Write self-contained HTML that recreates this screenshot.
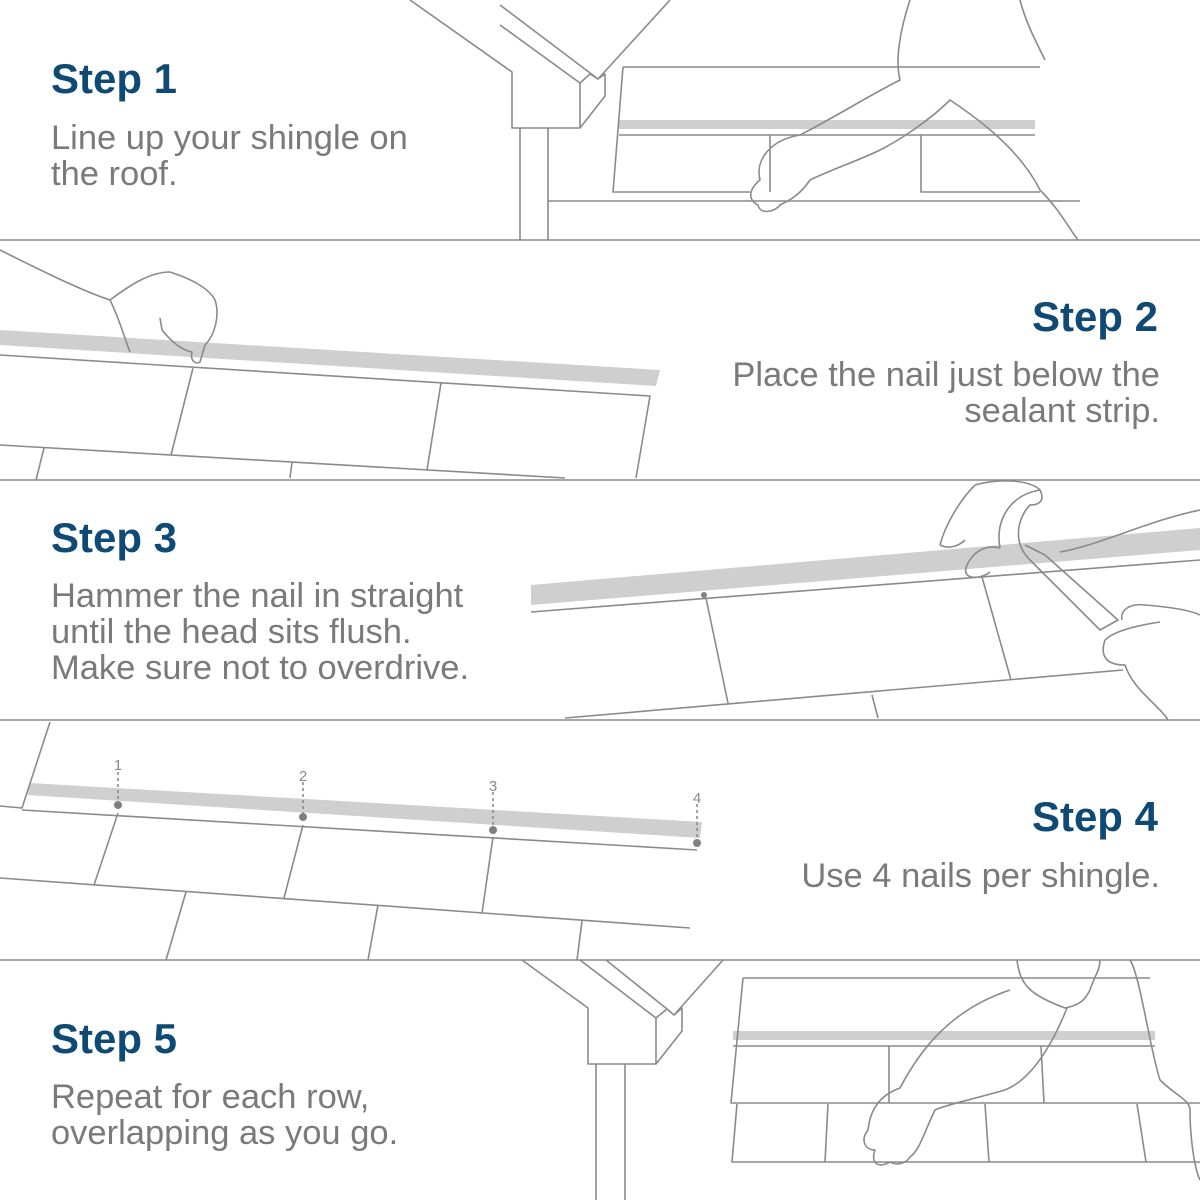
<!DOCTYPE html>
<html><head><meta charset="utf-8"><style>
html,body{margin:0;padding:0;background:#fff;}
svg{display:block}
.h{font-family:"Liberation Sans",sans-serif;font-weight:bold;font-size:42px;fill:#0f4a74}
.b{font-family:"Liberation Sans",sans-serif;font-size:34.5px;fill:#7a7a7a}
.n{font-family:"Liberation Sans",sans-serif;font-size:15px;fill:#888}
</style></head><body>
<svg width="1200" height="1200" viewBox="0 0 1200 1200" xmlns="http://www.w3.org/2000/svg">
<rect width="1200" height="1200" fill="#fff"/>
<!-- sealant strips -->
<g fill="#cfcfcf">
<rect x="619" y="120" width="416" height="9"/>
<polygon points="0,330 660,370 656,386 0,345"/>
<polygon points="531,585 1200,528 1200,550 531,605"/>
<polygon points="30,783 702,822 700,838 28,795"/>
<rect x="733" y="1031" width="422" height="9"/>
</g>
<g fill="none" stroke="#8a8a8a" stroke-width="1.6" stroke-linejoin="round">
<!-- panel 1 -->
<path d="M410,0 L512,72 L512,128 L580,128 L580,83 L590,74 L598,79 L670,0"/>
<path d="M500,25 L580,83"/><path d="M500,5 L598,79"/>
<path d="M598,79 L605,74 L605,96 L580,128"/>
<path d="M520,128 L520,240 M548,128 L548,240"/>
<path d="M548,201 L1080,201"/>
<path d="M623,67 L1040,67 M623,67 L613,192 L750,192"/>
<path d="M619,135 L1035,135 M770,135 L770,192 M921,135 L921,192 L1040,192"/>
<path d="M910,0 C900,30 895,60 900,80 C870,95 830,120 800,135 C770,140 755,160 760,180 C748,190 748,200 758,205 C760,215 775,212 780,205 C790,200 800,195 810,180 C830,170 860,160 880,150 C900,140 930,120 950,100 C980,120 1020,150 1040,190 C1060,210 1070,230 1078,240"/>
<path d="M1020,0 C1025,20 1035,40 1045,60"/>
<!-- panel 2 -->
<path d="M0,355 L650,396 L636,478"/>
<path d="M193,368 L171,455 M441,383 L427,470"/>
<path d="M0,445 L565,478 M44,448 L36,480 M292,462 L290,478"/>
<path d="M0,250 C40,270 80,290 110,300 C130,285 150,272 170,272 C195,280 210,290 215,300 C220,315 215,335 205,345 L200,362 C195,365 190,360 192,352 C180,350 170,340 162,330 L160,318"/>
<path d="M110,300 C120,320 125,340 130,352"/>
<!-- panel 3 -->
<path d="M531,612 L1200,560"/>
<path d="M706,598 L728,703 M982,577 L1011,680"/>
<path d="M565,718 L1123,670 M872,695 L878,718"/>
<path d="M940,545 C945,525 960,500 975,485 C1000,478 1030,480 1040,490 M940,545 C950,550 960,545 965,540 M1060,552 C1100,545 1150,520 1200,510"/>
<path d="M1000,548 C995,520 1010,495 1040,490 C1045,500 1040,505 1030,505 C1020,515 1010,540 1030,560 L1100,630 L1118,620 L1045,555 L1025,545 M967,565 C975,548 990,545 1000,548 M967,565 C960,580 980,580 990,572"/>
<path d="M1122,620 C1120,610 1130,603 1145,605 C1170,607 1190,610 1200,615 M1105,640 C1100,655 1105,665 1125,665 C1130,680 1140,690 1150,700 C1160,710 1165,715 1168,720 M1105,640 C1115,630 1140,625 1160,622"/>
<!-- panel 4 -->
<path d="M50,722 L22,808 L0,806"/>
<path d="M22,810 L697,850"/>
<path d="M118,813 L94,885 M303,825 L284,898 M493,837 L482,913"/>
<path d="M0,878 L690,928"/>
<path d="M186,892 L166,960 M378,905 L368,960 M582,921 L577,960"/>
<path d="M118,772 L118,805 M303,782 L303,817 M493,792 L493,830 M697,804 L697,843" stroke-dasharray="3,3"/>
<!-- panel 5 -->
<path d="M522,960 L588,1008 L588,1064 L656,1064 L656,1018 M580,960 L656,1018 M606,960 L667,1009 L674,1015 L723,960 M656,1018 L667,1009 M674,1015 L682,1008 L682,1031 L656,1064"/>
<path d="M596,1064 L596,1200 M625,1064 L625,1200"/>
<path d="M743,978 L1150,978 M743,978 L731,1103 L1200,1103"/>
<path d="M733,1046 L1155,1046 M889,1046 L889,1103 M1041,1046 L1044,1103"/>
<path d="M737,1104 L732,1162 L1200,1162 M828,1104 L825,1162 M985,1104 L989,1162 M1137,1104 L1146,1162"/>
<path d="M1017,960 C1020,985 1030,995 1065,1008 C1080,1005 1085,1000 1090,990 C1095,975 1100,970 1100,960"/>
<path d="M1067,1008 C1050,1050 1030,1080 1005,1090 C970,1100 945,1105 935,1110 C925,1130 920,1150 910,1157 C905,1165 895,1165 890,1162 C880,1168 870,1165 875,1150 C865,1150 860,1140 868,1130 C870,1110 880,1095 900,1088 C920,1050 950,1010 1010,990"/>
<path d="M1130,960 C1140,975 1150,1050 1160,1080 C1175,1095 1190,1100 1190,1110 C1190,1140 1195,1170 1200,1180"/>
</g>
<g fill="#808080">
<circle cx="704" cy="595" r="3"/>
<circle cx="118" cy="805" r="4"/><circle cx="303" cy="817" r="4"/><circle cx="493" cy="830" r="4"/><circle cx="697" cy="843" r="4"/>
</g>
<text class="n" x="118" y="770" text-anchor="middle">1</text>
<text class="n" x="303" y="781" text-anchor="middle">2</text>
<text class="n" x="493" y="791" text-anchor="middle">3</text>
<text class="n" x="697" y="803" text-anchor="middle">4</text>
<g stroke="#8a8a8a" stroke-width="1.6">
<line x1="0" y1="240" x2="1200" y2="240"/><line x1="0" y1="480" x2="1200" y2="480"/>
<line x1="0" y1="720" x2="1200" y2="720"/><line x1="0" y1="960" x2="1200" y2="960"/>
</g>
<text class="h" x="51" y="93">Step 1</text>
<text class="b" x="51" y="149">Line up your shingle on</text>
<text class="b" x="51" y="185">the roof.</text>
<text class="h" x="1158" y="331" text-anchor="end">Step 2</text>
<text class="b" x="1160" y="386" text-anchor="end">Place the nail just below the</text>
<text class="b" x="1160" y="422" text-anchor="end">sealant strip.</text>
<text class="h" x="51" y="552">Step 3</text>
<text class="b" x="51" y="607">Hammer the nail in straight</text>
<text class="b" x="51" y="643">until the head sits flush.</text>
<text class="b" x="51" y="679">Make sure not to overdrive.</text>
<text class="h" x="1158" y="831" text-anchor="end">Step 4</text>
<text class="b" x="1160" y="887" text-anchor="end">Use 4 nails per shingle.</text>
<text class="h" x="51" y="1053">Step 5</text>
<text class="b" x="51" y="1108">Repeat for each row,</text>
<text class="b" x="51" y="1144">overlapping as you go.</text>
</svg>
</body></html>
